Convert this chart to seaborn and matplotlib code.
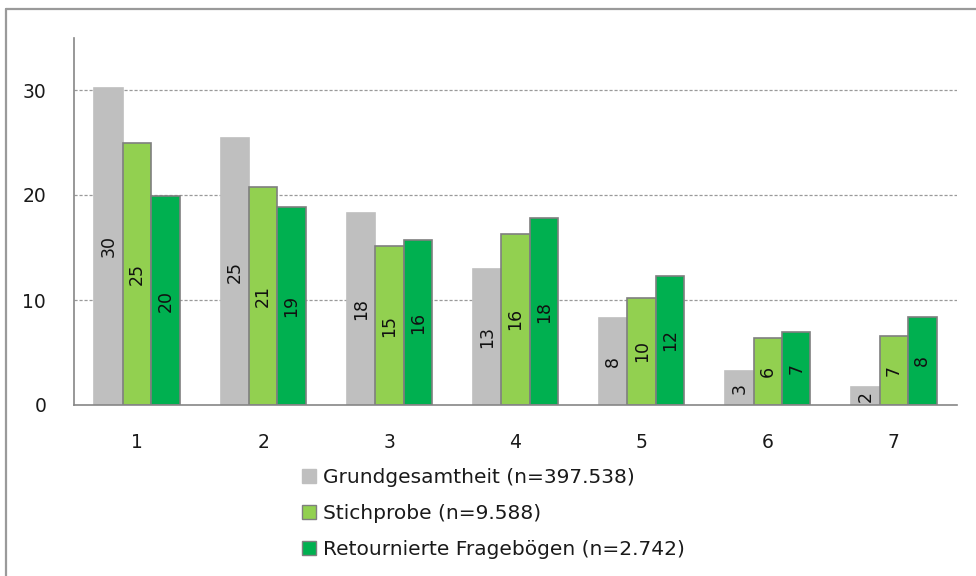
import matplotlib
matplotlib.use("Agg")
import matplotlib.pyplot as plt
from matplotlib.lines import Line2D
from matplotlib.patches import Patch
import seaborn as sns
import pandas as pd

categories = ["1", "2", "3", "4", "5", "6", "7"]
series_names = ["Grundgesamtheit (n=397.538)", "Stichprobe (n=9.588)", "Retournierte Fragebögen (n=2.742)"]
grund = [30.2, 25.4, 18.3, 13.0, 8.3, 3.2, 1.7]
stich = [25.0, 20.8, 15.1, 16.3, 10.2, 6.35, 6.6]
retour = [19.9, 18.9, 15.7, 17.8, 12.3, 6.95, 8.4]
colors = ["#BFBFBF", "#92D050", "#00B050"]
edgecolors = ["#BFBFBF", "#7F7F7F", "#7F7F7F"]

rows = []
for name, vals in zip(series_names, [grund, stich, retour]):
    for c, v in zip(categories, vals):
        rows.append({"cat": c, "series": name, "value": v})
df = pd.DataFrame(rows)

sns.set_style("white")
plt.rcParams["font.family"] = ["DejaVu Sans"]

W, H = 976, 576
fig = plt.figure(figsize=(W / 100, H / 100), dpi=100)
ax = fig.add_axes([74 / W, 1 - 405 / H, (957 - 74) / W, (405 - 37.5) / H])

sns.barplot(data=df, x="cat", y="value", hue="series", hue_order=series_names,
            order=categories, palette=colors, width=0.675, ax=ax,
            legend=False, errorbar=None, saturation=1)

for cont, ec, in zip(ax.containers, edgecolors):
    for bar in cont:
        bar.set_edgecolor(ec)
        bar.set_linewidth(1.2)
    ax.bar_label(cont, labels=[f"{round(b.get_height())}" for b in cont],
                 label_type="center", rotation=90, fontsize=12.5, color="#111111")

ax.set_xlim(-0.5, 6.5)
ax.set_ylim(0, 35)
ax.set_yticks([0, 10, 20, 30])
ax.set_xticks([i - 0.5 for i in range(8)])
ax.set_xticklabels([])
ax.set_xticks(range(7), minor=True)
ax.set_xticklabels(categories, minor=True)
ax.tick_params(axis="x", which="major", direction="out", length=6, width=1, color="#868686")
ax.tick_params(axis="x", which="minor", length=0, pad=20, labelsize=13.5, labelcolor="#1a1a1a")
ax.tick_params(axis="y", direction="out", length=6, width=1, color="#868686",
               labelsize=13.5, labelcolor="#1a1a1a", pad=14)
ax.set_xlabel("")
ax.set_ylabel("")

for s in ["top", "right"]:
    ax.spines[s].set_visible(False)
for s in ["left", "bottom"]:
    ax.spines[s].set_color("#868686")
    ax.spines[s].set_linewidth(1.2)

ax.set_axisbelow(True)
for yv in [10, 20, 30]:
    ax.axhline(yv, color="#9a9a9a", linewidth=0.9, linestyle=(0, (2.5, 1.5)), zorder=0)

handles = [Patch(facecolor=c, edgecolor=e, linewidth=1) for c, e in zip(colors, edgecolors)]
fig.legend(handles, series_names, loc="upper left", bbox_to_anchor=(302 / W, 1 - 468 / H),
           frameon=False, fontsize=14.5, handlelength=0.68, handleheight=0.68,
           handletextpad=0.35, labelspacing=0.85, borderpad=0, borderaxespad=0,
           labelcolor="#1a1a1a")

fig.add_artist(Line2D([6 / W, 1], [1 - 9 / H, 1 - 9 / H], color="#9a9a9a", linewidth=1.6,
                      transform=fig.transFigure))
fig.add_artist(Line2D([6 / W, 6 / W], [0, 1 - 9 / H], color="#9a9a9a", linewidth=1.6,
                      transform=fig.transFigure))

fig.savefig("out.png", dpi=100)
